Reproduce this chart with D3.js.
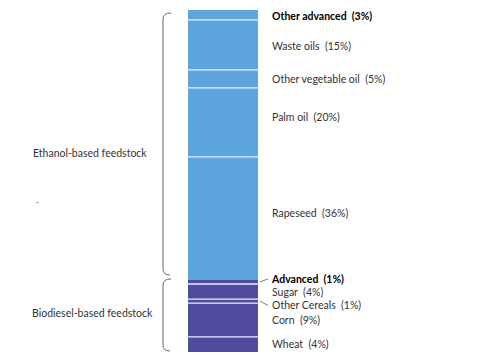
<!DOCTYPE html>
<html><head><meta charset="utf-8">
<script src="https://cdn.jsdelivr.net/npm/d3@7"></script>
<style>body{margin:0;background:#fff}svg{display:block}text{font-family:Lato,"Open Sans",sans-serif}</style>
</head><body><div id="c"></div>
<script>
// Segments from top to bottom
const categories = ["Other advanced","Waste oils","Other vegetable oil","Palm oil","Rapeseed","Advanced","Sugar","Other Cereals","Corn","Wheat"];
const labelPct = ["3%","15%","5%","20%","36%","1%","4%","1%","9%","4%"];
const values = [2.9,14.6,5.3,20.2,36,1.2,4.4,1.2,9.9,4.4];
const group = ["A","A","A","A","A","B","B","B","B","B"];
const bold = ["Other advanced","Advanced"];
const groupNames = ["Ethanol-based feedstock","Biodiesel-based feedstock"];
// label positions (in value units from top)
const labelAt = [1.7,10.6,20.2,31.3,59.3,78.7,82.4,86.2,90.8,97.9];

(function(){
const W=480,H=364, yTop=10, yBot=352, bx=188, bw=70;
const svg=d3.select("#c").append("svg").attr("width",W).attr("height",H);
const total=d3.sum(values);
const y=d3.scaleLinear().domain([0,total]).range([yTop,yBot]);
const color=d3.scaleOrdinal().domain(["A","B"]).range(["#5da5dd","#4f4c9d"]);
let cum=0;
const segs=values.map((v,i)=>{const s={i,c:categories[i],v,y0:cum,y1:cum+v};cum+=v;return s;});
svg.selectAll("rect.seg").data(segs).join("rect").attr("class","seg")
 .attr("x",bx).attr("width",bw).attr("y",d=>y(d.y0)).attr("height",d=>y(d.y1)-y(d.y0))
 .attr("fill",d=>color(group[d.i]));
svg.selectAll("line.sep").data(segs.slice(1).filter(d=>group[d.i]===group[d.i-1])).join("line").attr("class","sep")
 .attr("x1",bx).attr("x2",bx+bw).attr("y1",d=>y(d.y0)).attr("y2",d=>y(d.y0))
 .attr("stroke","#e6ecff").attr("stroke-width",1.3);
svg.selectAll("text.lab").data(segs).join("text").attr("class","lab")
 .attr("x",272).attr("y",d=>y(labelAt[d.i])+4)
 .attr("font-size",10.5).attr("fill",d=>bold.includes(d.c)?"#000":"#333")
 .attr("font-weight",d=>bold.includes(d.c)?"bold":"normal")
 .attr("xml:space","preserve")
 .text(d=>d.c+"  ("+labelPct[d.i]+")");
// leader lines for thin segments
[5,7].forEach(i=>{const s=segs[i];const ym=y((s.y0+s.y1)/2);const yl=y(labelAt[i]);
 svg.append("line").attr("x1",260).attr("y1",ym).attr("x2",268).attr("y2",yl+(i===5?0:1))
 .attr("stroke","#555").attr("stroke-width",0.8);});
// braces
const bx0=163;
function brace(yA,yB){
 const p=d3.path();
 p.moveTo(bx0+8,yA); p.quadraticCurveTo(bx0,yA,bx0,yA+6);
 p.lineTo(bx0,yB-6); p.quadraticCurveTo(bx0,yB,bx0+7,yB);
 svg.append("path").attr("d",p.toString()).attr("fill","none").attr("stroke","#666").attr("stroke-width",1);
}
const gA=segs.filter(d=>group[d.i]==="A"), gB=segs.filter(d=>group[d.i]==="B");
brace(y(gA[0].y0)+3,y(gA[gA.length-1].y1)-5);
brace(y(gB[0].y0)-1,y(gB[gB.length-1].y1)-1);
svg.append("text").attr("x",33).attr("y",157).attr("font-size",10.5).attr("fill","#333").text(groupNames[0]);
svg.append("text").attr("x",32).attr("y",317).attr("font-size",10.5).attr("fill","#333").text(groupNames[1]);
svg.append("text").attr("x",36).attr("y",205).attr("font-size",8).attr("fill","#333").text("-");
})();
</script></body></html>
